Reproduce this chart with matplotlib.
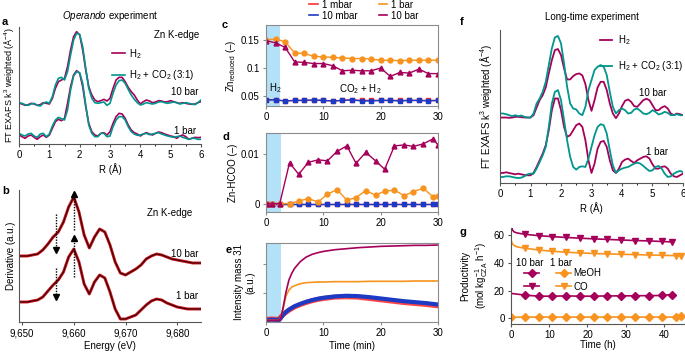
import numpy as np
import matplotlib
matplotlib.use('Agg')
from matplotlib import pyplot as plt
from matplotlib.lines import Line2D

plt.rcParams['font.family'] = ['Liberation Sans', 'DejaVu Sans']
plt.rcParams['font.size'] = 7
plt.rcParams['mathtext.fontset'] = 'custom'
plt.rcParams['mathtext.rm'] = 'Liberation Sans'
plt.rcParams['mathtext.it'] = 'Liberation Sans:italic'
plt.rcParams['mathtext.bf'] = 'Liberation Sans:bold'
plt.rcParams['axes.linewidth'] = 0.8
plt.rcParams['xtick.major.size'] = 2.5
plt.rcParams['ytick.major.size'] = 2.5
plt.rcParams['xtick.major.pad'] = 2
plt.rcParams['ytick.major.pad'] = 2

MAGENTA = '#a5005a'
TEAL = '#00958e'
ORANGE = '#f7931e'
BLUE = '#1d3ac4'
RED = '#ff3030'
SHADE = '#b3e1f7'
SPINE = '#8c8c8c'

W, H = 685, 353

# ---- panel a: operando EXAFS (arb. units, offset curves)
r_grid = np.round(np.arange(0, 6.01, 0.1), 1)
a_10bar_h2 = [122, 120, 116, 118, 122, 120, 116, 118, 124, 122, 120,
              137, 167, 187, 192, 197, 232, 282, 322, 337, 327,
              282, 222, 172, 147, 132, 127, 130, 134, 129, 137,
              167, 192, 200, 200, 187, 170, 157, 147, 132, 120,
              127, 132, 129, 124, 126, 130, 129, 126, 127, 130,
              127, 124, 122, 124, 122, 120, 119, 120, 124, 127]
a_10bar_co2 = [124, 122, 118, 116, 120, 122, 116, 114, 122, 126, 122,
               142, 177, 197, 200, 192, 217, 267, 312, 332, 329,
               292, 227, 167, 137, 124, 122, 124, 126, 116, 122,
               152, 177, 190, 192, 182, 164, 147, 134, 124, 117,
               120, 124, 122, 120, 122, 126, 127, 124, 122, 124,
               126, 124, 120, 122, 124, 122, 120, 118, 124, 132]
a_1bar_h2 = [27, 22, 17, 24, 27, 20, 14, 22, 27, 20, 27,
             47, 67, 74, 70, 77, 122, 172, 207, 220, 212,
             172, 112, 62, 37, 27, 24, 32, 34, 27, 37,
             62, 82, 92, 90, 77, 57, 42, 34, 30, 24,
             30, 34, 30, 27, 32, 36, 34, 30, 27, 24,
             22, 17, 24, 27, 22, 14, 17, 20, 19, 20]
a_1bar_co2 = [32, 27, 24, 30, 32, 24, 20, 30, 32, 22, 30,
              54, 72, 80, 76, 72, 102, 162, 204, 217, 214,
              182, 117, 57, 32, 22, 22, 32, 32, 22, 24,
              52, 72, 82, 82, 72, 52, 37, 30, 26, 27,
              30, 32, 28, 30, 32, 34, 30, 27, 24, 22,
              20, 22, 24, 20, 17, 14, 17, 17, 14, 14]

# ---- panel b: XANES derivative
energy_b = [9649.4] + list(range(9651, 9684)) + [9684.6]
b_10bar = [66, 66, 67, 68, 72, 78, 85, 90, 100, 115, 125, 110, 87, 74, 85, 93, 90, 77,
           60, 49, 47, 50, 53, 57, 63, 66, 68, 67, 65, 63, 62, 61, 60, 59, 59]
b_1bar = [20, 20, 21, 22, 25, 31, 37, 42, 50, 65, 73, 60, 38, 28, 40, 47, 44, 30,
          13, 3, 3, 5, 7, 12, 17, 21, 23, 22, 19, 17, 15, 14, 13, 13, 13]
b_arrow_x = [9656.5, 9656.5, 9660, 9660]
b_arrow_from = [108, 54, 92, 45]
b_arrow_to = [72, 25, 128, 84]

# ---- panel c: Zn reduced
t_c = [0, 1.67, 3.33, 5, 6.67, 8.33, 10, 11.67, 13.33, 15, 16.67, 18.33,
       20, 21.67, 23.33, 25, 26.67, 28.33, 30]
c_1mbar = [0.043, 0.043, 0.041, 0.042, 0.042, 0.042, 0.042, 0.041, 0.042, 0.043,
           0.042, 0.042, 0.042, 0.042, 0.042, 0.042, 0.042, 0.042, 0.042]
c_10mbar = [0.043, 0.043, 0.041, 0.042, 0.042, 0.043, 0.042, 0.041, 0.042, 0.043,
            0.041, 0.041, 0.042, 0.042, 0.041, 0.042, 0.042, 0.041, 0.042]
c_1bar = [0.150, 0.152, 0.147, 0.127, 0.126, 0.121, 0.120, 0.119, 0.118, 0.117,
          0.117, 0.116, 0.114, 0.114, 0.113, 0.114, 0.114, 0.114, 0.114]
c_10bar = [0.149, 0.145, 0.137, 0.111, 0.110, 0.108, 0.108, 0.104, 0.095, 0.096,
           0.095, 0.095, 0.100, 0.085, 0.092, 0.091, 0.098, 0.090, 0.090]

# ---- panel d: Zn-HCOO
t_d = [0.1, 1.0, 2.4, 4.1, 5.7, 7.4, 9.1, 10.7, 12.4, 14.1, 15.7, 17.4, 19.1,
       20.7, 22.4, 24.1, 25.7, 27.4, 29.1, 30]
d_1mbar = [0] * 20
d_10mbar = [0] * 20
d_1bar = [0, 0, 0, 0, 0.0005, 0.0010, 0.0003, 0.0019, 0.0028, 0.0007, 0.0012, 0.0026,
          0.0017, 0.0025, 0.0027, 0.0016, 0.0024, 0.0031, 0.0014, 0.0015]
d_10bar = [0, 0, 0, 0.0082, 0.0059, 0.0083, 0.0088, 0.0086, 0.0105, 0.0116, 0.0081, 0.0103,
           0.0086, 0.0069, 0.0116, 0.0118, 0.0115, 0.0120, 0.0130, 0.0118]

# ---- panel e: mass 31 signal (a.u.)
t_e = [0, 1, 2, 2.3, 2.6, 3, 3.5, 4, 4.5, 5, 6, 7, 8, 9, 10, 12, 14, 16, 18, 20, 22, 24, 26, 28, 30]
e_1mbar = [8, 9, 8, 8, 15, 22, 29, 35, 40, 45, 52, 58, 63, 67, 70, 74, 75, 74, 70, 66, 62, 58, 55, 52, 48]
e_10mbar = [6, 7, 6, 6, 12, 22, 30, 37, 42, 47, 54, 60, 65, 69, 72, 76, 78, 77, 74, 70, 66, 62, 59, 56, 52]
e_1bar = [5, 5, 5, 5, 15, 40, 78, 95, 104, 108, 114, 117, 118, 119, 119, 120, 120, 120, 121, 121,
          121, 121, 122, 122, 122]
e_10bar = [5, 5, 5, 5, 12, 45, 90, 125, 145, 160, 180, 193, 201, 206, 210, 215, 218, 221, 223, 225,
           226, 227, 228, 228, 229]

# ---- panel f: long-time EXAFS
f_10bar_h2 = [196, 196, 196, 195, 196, 198, 198, 197, 196, 196, 196,
              203, 226, 248, 263, 286, 328, 368, 398, 401, 383,
              343, 310, 310, 320, 326, 328, 322, 296, 248, 216,
              248, 286, 303, 303, 278, 238, 208, 194, 208, 230,
              246, 250, 243, 230, 228, 238, 248, 252, 248, 233,
              218, 218, 226, 230, 223, 208, 203, 208, 206, 203]
f_10bar_co2 = [208, 208, 206, 203, 200, 203, 200, 202, 198, 196, 196,
               208, 238, 253, 273, 303, 353, 403, 436, 440, 418,
               358, 288, 238, 223, 220, 208, 203, 228, 278, 308,
               338, 348, 353, 348, 323, 273, 228, 208, 218, 223,
               218, 208, 210, 220, 223, 216, 208, 206, 210, 218,
               213, 205, 208, 213, 210, 203, 203, 206, 203, 203]
f_1bar_h2 = [30, 30, 32, 30, 28, 26, 28, 26, 24, 23, 23,
             30, 48, 68, 88, 113, 158, 218, 253, 253, 218,
             168, 138, 143, 158, 173, 178, 168, 128, 68, 30,
             58, 103, 123, 126, 108, 68, 38, 30, 43, 63,
             70, 73, 66, 60, 68, 73, 78, 80, 73, 56,
             43, 43, 48, 50, 43, 28, 20, 18, 23, 28]
f_1bar_co2 = [18, 18, 20, 20, 18, 16, 15, 16, 20, 26, 28,
              28, 43, 63, 83, 108, 168, 238, 273, 278, 248,
              188, 128, 78, 48, 40, 48, 50, 48, 73, 108,
              143, 168, 176, 173, 148, 98, 53, 30, 38, 43,
              46, 48, 53, 58, 61, 58, 51, 43, 36, 38,
              48, 51, 43, 28, 18, 20, 28, 33, 36, 33]

# ---- panel g: productivity
t_g_co10 = [0, 0.15, 0.4, 0.8, 1.5, 2.5, 3.6, 7.2, 10.8, 14.4, 18.0, 21.6, 25.2, 28.8,
            32.4, 36.0, 39.6, 42.0]
g_co_10bar = [70, 66, 63.5, 62.2, 61.5, 61.0, 60.5, 59.5, 58.8, 58.2, 57.7, 57.2, 56.8,
              56.4, 56.0, 55.7, 55.3, 55.0]
t_g_co1 = [0, 0.15, 0.4, 0.8, 1.5, 2.5, 3.6, 7.2, 10.8, 14.4, 18.0, 21.6, 25.2, 28.8,
           32.4, 36.0, 39.6, 43.2, 44.5]
g_co_1bar = [57, 55, 53.5, 52.5, 51.5, 51.0, 50.5, 49.2, 48.3, 47.6, 47.1, 46.7, 46.4,
             46.1, 45.9, 45.6, 45.4, 45.1, 45.0]
t_g_me10 = [0, 3.6, 7.2, 10.8, 14.4, 18.0, 21.6, 25.2, 28.8, 32.4, 36.0, 39.6, 42.0]
g_meoh_10bar = [18, 16.8, 16.0, 16.0, 16.2, 16.0, 16.0, 16.2, 16.2, 16.3, 16.4, 16.5, 17.2]
t_g_me1 = [0, 3.6, 7.2, 10.8, 14.4, 18.0, 21.6, 25.2, 28.8, 32.4, 36.0, 39.6, 43.2, 44.5]
g_meoh_1bar = [0.8, 1.0, 1.0, 1.0, 1.0, 1.0, 1.0, 1.0, 1.0, 1.0, 1.0, 1.0, 1.0, 1.5]


def rect(left, top, right, bottom):
    return [left / W, 1 - bottom / H, (right - left) / W, (bottom - top) / H]


def open_axes(ax):
    ax.spines['top'].set_visible(False)
    ax.spines['right'].set_visible(False)
    for s in ['left', 'bottom']:
        ax.spines[s].set_color('#555555')
    ax.tick_params(colors='#555555', labelcolor='black')


def box_axes(ax):
    for s in ax.spines.values():
        s.set_color(SPINE)
    ax.tick_params(colors=SPINE, labelcolor='black')


def panel_a(fig):
    ax = fig.add_axes(rect(19, 27, 201, 144))
    ax.plot(r_grid, a_10bar_h2, color=MAGENTA, lw=1.2, label='H$_2$')
    ax.plot(r_grid, a_10bar_co2, color=TEAL, lw=1.2, label='H$_2$ + CO$_2$ (3:1)')
    ax.plot(r_grid, a_1bar_h2, color=MAGENTA, lw=1.2)
    ax.plot(r_grid, a_1bar_co2, color=TEAL, lw=1.2)
    ax.set_xlim(0, 6)
    ax.set_ylim(0, 351)
    ax.set_yticks([])
    ax.set_xticks(range(7))
    ax.set_xticks(np.arange(0.5, 6, 1), minor=True)
    ax.tick_params(which='minor', length=1.5)
    open_axes(ax)
    ax.set_xlabel('R (Å)', labelpad=2)
    ax.set_ylabel('FT EXAFS k$^3$ weighted (Å$^{-4}$)', labelpad=2, fontsize=6.5)
    ax.set_title('$\\mathit{Operando}$ experiment', pad=6, fontsize=7)
    ax.legend(loc='upper left', bbox_to_anchor=(0.51, 0.83), frameon=False,
              handlelength=1.4, handletextpad=0.4, labelspacing=0.75,
              borderaxespad=0, borderpad=0)
    ax.text(0.99, 0.93, 'Zn K-edge', transform=ax.transAxes, ha='right', va='center')
    ax.text(0.91, 0.445, '10 bar', transform=ax.transAxes, ha='center', va='center')
    ax.text(0.91, 0.11, '1 bar', transform=ax.transAxes, ha='center', va='center')


def panel_b(fig):
    ax = fig.add_axes(rect(19, 190, 201, 322))
    for vals in (b_10bar, b_1bar):
        ax.plot(energy_b, vals, color='#c8141e', lw=2.1, solid_capstyle='round')
        ax.plot(energy_b, vals, color='#2a0000', lw=0.7)
    for x, y0, y1 in zip(b_arrow_x, b_arrow_from, b_arrow_to):
        ax.plot([x, x], [y0, y1], color='black', lw=1.0, ls=(0, (1, 1)))
        ax.plot(x, y1, marker='^' if y1 > y0 else 'v', color='black', ms=4)
    ax.set_xlim(9649.4, 9684.6)
    ax.set_ylim(0, 132)
    ax.set_yticks([])
    ax.set_xticks([9650, 9660, 9670, 9680])
    ax.set_xticklabels(['9,650', '9,660', '9,670', '9,680'])
    open_axes(ax)
    ax.set_xlabel('Energy (eV)', labelpad=2)
    ax.set_ylabel('Derivative (a.u.)', labelpad=2)
    ax.text(9678.6, 109, 'Zn K-edge', ha='center', va='center')
    ax.text(9681.5, 68, '10 bar', ha='center', va='center')
    ax.text(9681.9, 26, '1 bar', ha='center', va='center')


def series_plot(ax, t, s_1mbar, s_10mbar, s_1bar, s_10bar):
    ax.plot(t, s_1mbar, color=RED, lw=1.0, marker='s', ms=3)
    ax.plot(t, s_10mbar, color=BLUE, lw=1.0, marker='s', ms=3)
    ax.plot(t, s_1bar, color=ORANGE, lw=1.0, marker='o', ms=3.5)
    ax.plot(t, s_10bar, color=MAGENTA, lw=1.0, marker='^', ms=3.5)


def panel_cde(fig):
    ax = fig.add_axes(rect(266, 25, 438, 106))
    ax.axvspan(0, 2.45, color=SHADE, lw=0)
    series_plot(ax, t_c, c_1mbar, c_10mbar, c_1bar, c_10bar)
    ax.set_xlim(0, 30)
    ax.set_ylim(0.032, 0.177)
    ax.set_xticks([0, 10, 20, 30])
    ax.set_yticks([0.05, 0.1, 0.15])
    ax.set_yticklabels(['0.05', '0.1', '0.15'])
    box_axes(ax)
    ax.set_ylabel('Zn$_{\\mathrm{reduced}}$ (–)', labelpad=2)
    ax.text(1.55, 0.064, 'H$_2$', ha='center', va='center')
    ax.text(16.4, 0.0625, 'CO$_2$ + H$_2$', ha='center', va='center')
    handles = [Line2D([], [], color=RED, lw=1.2), Line2D([], [], color=BLUE, lw=1.2),
               Line2D([], [], color=ORANGE, lw=1.2), Line2D([], [], color=MAGENTA, lw=1.2)]
    fig.legend(handles, ['1 mbar', '10 mbar', '1 bar', '10 bar'], ncol=2,
               loc='upper left', bbox_to_anchor=(309 / W, 1 + 0.5 / H), frameon=False,
               handlelength=0.9, handletextpad=0.4, columnspacing=2.2,
               labelspacing=0.13, borderpad=0, borderaxespad=0)

    ax = fig.add_axes(rect(266, 133, 438, 212))
    ax.axvspan(0, 2.55, color=SHADE, lw=0)
    series_plot(ax, t_d, d_1mbar, d_10mbar, d_1bar, d_10bar)
    ax.set_xlim(0, 30)
    ax.set_ylim(-0.0017, 0.0142)
    ax.set_xticks([0, 10, 20, 30])
    ax.set_yticks([0, 0.01])
    ax.set_yticklabels(['0', '0.01'])
    box_axes(ax)
    ax.set_ylabel('Zn-HCOO (–)', labelpad=2)

    ax = fig.add_axes(rect(266, 243, 438, 322))
    ax.axvspan(0, 2.6, color=SHADE, lw=0)
    ax.plot(t_e, e_1mbar, color=RED, lw=3.6, alpha=0.9)
    ax.plot(t_e, e_10mbar, color=BLUE, lw=3.0)
    ax.plot(t_e, e_1bar, color=ORANGE, lw=1.2)
    ax.plot(t_e, e_10bar, color=MAGENTA, lw=1.2)
    ax.set_xlim(0, 30)
    ax.set_ylim(0, 235)
    ax.set_xticks([0, 10, 20, 30])
    ax.set_yticks([85, 173])
    ax.set_yticklabels([])
    box_axes(ax)
    ax.set_xlabel('Time (min)', labelpad=2)
    ax.set_ylabel('Intensity mass 31\n(a.u.)', labelpad=3)


def panel_f(fig):
    ax = fig.add_axes(rect(500, 30, 683, 183))
    ax.plot(r_grid, f_10bar_h2, color=MAGENTA, lw=1.3, label='H$_2$')
    ax.plot(r_grid, f_10bar_co2, color=TEAL, lw=1.3, label='H$_2$ + CO$_2$ (3:1)')
    ax.plot(r_grid, f_1bar_h2, color=MAGENTA, lw=1.3)
    ax.plot(r_grid, f_1bar_co2, color=TEAL, lw=1.3)
    ax.set_xlim(0, 6)
    ax.set_ylim(0, 458)
    ax.set_yticks([])
    ax.set_xticks(range(7))
    ax.set_xticks(np.arange(0.5, 6, 1), minor=True)
    ax.tick_params(which='minor', length=1.5)
    open_axes(ax)
    ax.set_xlabel('R (Å)', labelpad=2)
    ax.set_ylabel('FT EXAFS k$^3$ weighted (Å$^{-4}$)', labelpad=4)
    ax.set_title('Long-time experiment', pad=7, fontsize=7)
    ax.legend(loc='upper left', bbox_to_anchor=(0.546, 0.98), frameon=False,
              handlelength=1.25, handletextpad=0.6, labelspacing=1.27,
              borderaxespad=0, borderpad=0)
    ax.text(0.836, 0.59, '10 bar', transform=ax.transAxes, ha='center', va='center')
    ax.text(0.858, 0.205, '1 bar', transform=ax.transAxes, ha='center', va='center')


def panel_g(fig):
    ax = fig.add_axes(rect(511, 228, 685, 324))
    ax.plot(t_g_co10, g_co_10bar, color=MAGENTA, lw=1.2, marker='v', ms=4.5,
            markevery=slice(6, None))
    ax.plot(t_g_co1, g_co_1bar, color=ORANGE, lw=1.2, marker='v', ms=4.5,
            markevery=slice(6, None))
    ax.plot(t_g_me10, g_meoh_10bar, color=MAGENTA, lw=1.2, marker='D', ms=3.8,
            markevery=slice(1, None))
    ax.plot(t_g_me1, g_meoh_1bar, color=ORANGE, lw=1.2, marker='D', ms=3.8)
    ax.set_xlim(0, 45.5)
    ax.set_ylim(-4.0, 65)
    ax.set_xticks([0, 10, 20, 30, 40])
    ax.set_yticks([0, 20, 40, 60])
    open_axes(ax)
    ax.tick_params(axis='x', pad=1.5)
    ax.set_xlabel('Time (h)', labelpad=0.5)
    ax.set_ylabel('Productivity\n(mol kg$^{-1}_{\\mathrm{CZA}}$ h$^{-1}$)', labelpad=3)
    ax.text(4.96, 40, '10 bar', ha='center', va='center')
    ax.text(13.2, 40, '1 bar', ha='center', va='center')
    handles = [Line2D([], [], color=MAGENTA, lw=1.2, marker='D', ms=3.8),
               Line2D([], [], color=MAGENTA, lw=1.2, marker='v', ms=4.5),
               Line2D([], [], color=ORANGE, lw=1.2, marker='D', ms=3.8),
               Line2D([], [], color=ORANGE, lw=1.2, marker='v', ms=4.5)]
    ax.legend(handles, ['', '', 'MeOH', 'CO'], ncol=2, loc='upper left',
              bbox_to_anchor=(0.075, 0.58), frameon=False, handlelength=1.55,
              handletextpad=0.2, columnspacing=1.55, labelspacing=0.34,
              borderpad=0, borderaxespad=0)


def main():
    fig = plt.figure(figsize=(W / 100, H / 100), dpi=100)
    panel_a(fig)
    panel_b(fig)
    panel_cde(fig)
    panel_f(fig)
    panel_g(fig)
    letters = {'a': (2, 22), 'b': (2, 191), 'c': (222, 25), 'd': (222, 137),
               'e': (226, 250), 'f': (460, 22), 'g': (460, 232)}
    for k, (x, y) in letters.items():
        fig.text(x / W, 1 - y / H, k, weight='bold', fontsize=8, va='center')
    fig.savefig('out.png', dpi=100)


if __name__ == "__main__":
    main()
